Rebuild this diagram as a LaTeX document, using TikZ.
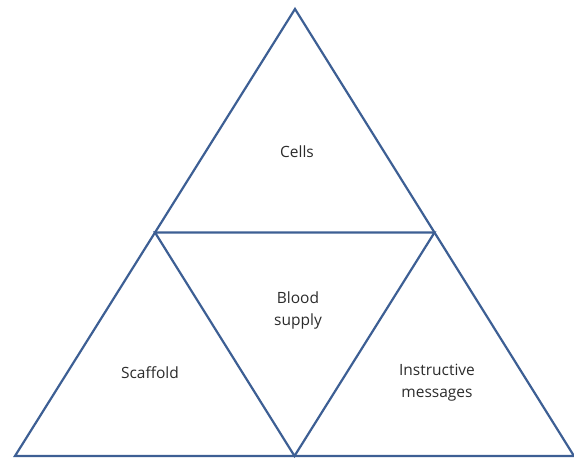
\documentclass[tikz,border=0pt]{standalone}
\usepackage{fontspec}
\setmainfont{Open Sans}
\definecolor{edgeblue}{HTML}{3D5F94}
\definecolor{txt}{HTML}{2B2B2B}
\begin{document}
\begin{tikzpicture}[x=1pt,y=-1pt,
  tri/.style={draw=edgeblue,line width=2.2pt,line join=miter},
  lbl/.style={text=txt,font=\fontsize{15.5}{22}\selectfont,align=center}]
\useasboundingbox (0,0) rectangle (574,458);
\coordinate (A) at (295,9);
\coordinate (L) at (15,456);
\coordinate (R) at (574,456);
\coordinate (ML) at (155,232.5);
\coordinate (MR) at (434.5,232.5);
\coordinate (MB) at (294.5,456);
\draw[tri] (A) -- (L) -- (R) -- cycle;
\draw[tri] (ML) -- (MR) -- (MB) -- cycle;
\node[lbl] (cells) at (297,152) {Cells};
\node[lbl] (blood) at (298,310) {Blood\\supply};
\node[lbl] (scaf) at (150,373) {Scaffold};
\node[lbl] (instr) at (437,383) {Instructive\\messages};
\end{tikzpicture}
\end{document}
